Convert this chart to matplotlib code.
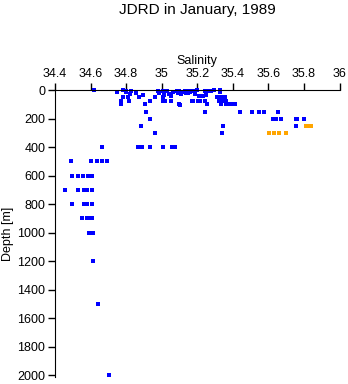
import matplotlib
matplotlib.use("Agg")
import matplotlib.pyplot as plt

plt.rcParams['font.family'] = ['Liberation Sans', 'DejaVu Sans']

# salinity / depth observations (blue)
sal_blue = [34.62, 34.78, 34.80, 34.83, 34.75, 34.80, 34.82, 34.855, 34.785, 34.81,
            34.875, 34.895, 34.77, 34.815, 34.77, 34.905, 34.935, 34.96, 34.985, 34.98,
            35.015, 35.01, 35.01, 35.01, 35.02, 35.03, 35.04, 35.05, 35.055, 35.065,
            35.085, 35.09, 35.10, 35.11, 35.12, 35.13, 35.135, 35.14, 35.15, 35.155,
            35.16, 35.10, 35.105, 35.17, 35.175, 35.175, 35.185, 35.19, 35.20, 35.205,
            35.21, 35.215, 35.235, 35.245, 35.245, 35.25, 35.255, 35.26, 35.28, 35.295,
            35.33, 35.33, 35.31, 35.335, 35.355, 35.32, 35.34, 35.36, 35.335, 35.36,
            35.38, 35.40, 35.415,
            34.91, 35.245, 35.44, 35.51, 35.548, 35.578, 35.653,
            34.935, 35.625, 35.644, 35.672, 35.755, 35.762, 35.803,
            34.885, 35.345, 35.756,
            34.96, 35.34,
            34.666, 34.865, 34.89, 34.935, 35.01, 35.06, 35.075,
            34.488, 34.60, 34.634, 34.662, 34.69,
            34.497, 34.53, 34.559, 34.583, 34.606,
            34.459, 34.53, 34.565, 34.58, 34.606,
            34.493, 34.564, 34.578, 34.606,
            34.553, 34.581, 34.592, 34.609,
            34.592, 34.611,
            34.615, 34.643, 34.705]
dep_blue = [0, 0, 5, 10, 15, 15, 25, 20, 50, 50,
            50, 35, 80, 80, 100, 100, 80, 50, 20, 10,
            35, 80, 5, 50, 75, 10, 25, 40, 75, 15,
            5, 20, 10, 25, 15, 5, 20, 10, 20, 5,
            15, 100, 105, 75, 80, 5, 15, 30, 0, 75,
            45, 80, 40, 80, 5, 35, 100, 5, 5, 2,
            3, 15, 50, 50, 50, 80, 80, 80, 100, 100,
            100, 100, 100,
            155, 155, 155, 155, 155, 155, 155,
            205, 205, 205, 205, 205, 205, 205,
            255, 255, 255,
            300, 300,
            400, 400, 400, 400, 400, 400, 400,
            500, 500, 500, 500, 500,
            600, 600, 600, 600, 600,
            700, 700, 700, 700, 700,
            800, 800, 800, 800,
            900, 900, 900, 900,
            1000, 1000,
            1200, 1500, 2000]

# second group (orange)
sal_orange = [35.812, 35.825, 35.839, 35.602, 35.634, 35.662, 35.70]
dep_orange = [250, 250, 250, 300, 300, 300, 300]

xticks = [34.4, 34.6, 34.8, 35, 35.2, 35.4, 35.6, 35.8, 36]
xtick_labels = ["34.4", "34.6", "34.8", "35", "35.2", "35.4", "35.6", "35.8", "36"]
yticks = list(range(0, 2001, 200))

fig = plt.figure(figsize=(3.48, 3.84), dpi=100)
ax = fig.add_axes([55 / 348, 7 / 384, 284.5 / 348, 287 / 384])

ax.plot(sal_blue, dep_blue, 's', color='#0000FF', ms=2.3, mew=0, clip_on=False)
ax.plot(sal_orange, dep_orange, 's', color='#FFA500', ms=2.3, mew=0, clip_on=False)

ax.set_xlim(34.4, 36)
ax.set_ylim(2012, 0)

ax.xaxis.tick_top()
ax.xaxis.set_label_position('top')
ax.set_xticks(xticks)
ax.set_xticklabels(xtick_labels)
ax.set_yticks(yticks)
ax.tick_params(axis='both', direction='out', length=5, width=1, labelsize=9, pad=2)
ax.spines['right'].set_visible(False)
ax.spines['bottom'].set_visible(False)
ax.set_xlabel('Salinity', fontsize=9, labelpad=3)
ax.set_ylabel('Depth [m]', fontsize=9, labelpad=2)

fig.text(197 / 348, 1 - 10 / 384, 'JDRD in January, 1989', ha='center', va='center', fontsize=11)

fig.savefig('out.png', dpi=100)
